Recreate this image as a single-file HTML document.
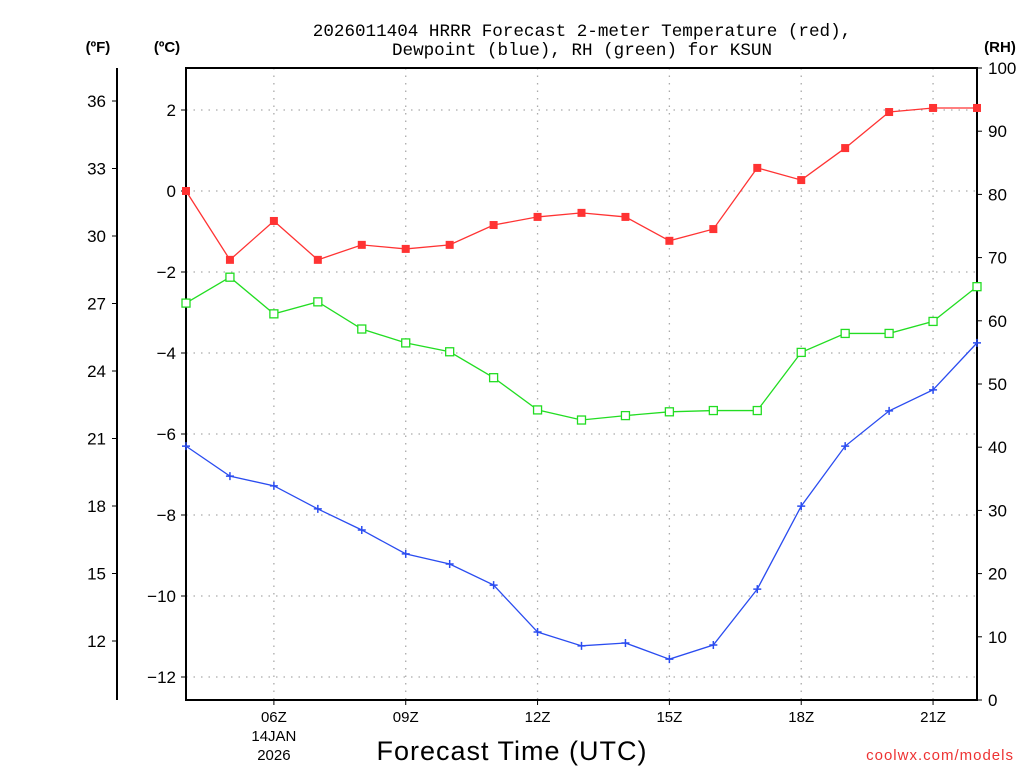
<!DOCTYPE html>
<html><head><meta charset="utf-8">
<style>
body{margin:0;background:#fff;width:1024px;height:768px;overflow:hidden;font-family:"Liberation Sans",sans-serif;}
svg text{font-family:"Liberation Sans",sans-serif;}
svg text.mono{font-family:"Liberation Mono",monospace;}
</style></head>
<body>
<svg id="chart" width="1024" height="768" xmlns="http://www.w3.org/2000/svg">
<text class="mono" x="582" y="36" font-size="17.6" text-anchor="middle" fill="#000">2026011404 HRRR Forecast 2-meter Temperature (red),</text>
<text class="mono" x="582" y="55" font-size="17.6" text-anchor="middle" fill="#000">Dewpoint (blue), RH (green) for KSUN</text>
<text x="98" y="52" font-size="15" font-weight="bold" text-anchor="middle">(ºF)</text>
<text x="167" y="52" font-size="15" font-weight="bold" text-anchor="middle">(ºC)</text>
<text x="1000" y="52" font-size="15" font-weight="bold" text-anchor="middle">(RH)</text>
<text x="512" y="760" font-size="27" text-anchor="middle" letter-spacing="1">Forecast Time (UTC)</text>
<text x="1014" y="760" font-size="15" text-anchor="end" fill="#e33" letter-spacing="1">coolwx.com/models</text>
<g id="grid"></g>
<g id="axes"></g>
<g id="series"></g>
</svg>
<script>
const hours = [4,5,6,7,8,9,10,11,12,13,14,15,16,17,18,19,20,21,22];
const tempC = [0.0,-1.7,-0.74,-1.7,-1.33,-1.43,-1.33,-0.84,-0.64,-0.54,-0.64,-1.23,-0.94,0.57,0.27,1.06,1.95,2.05,2.05];
const dewC = [-6.3,-7.04,-7.28,-7.85,-8.37,-8.96,-9.21,-9.73,-10.89,-11.23,-11.16,-11.56,-11.21,-9.83,-7.78,-6.3,-5.43,-4.91,-3.75];
const rh = [62.8,66.9,61.1,63.0,58.7,56.5,55.1,51.0,45.9,44.3,45.0,45.6,45.8,45.8,55.0,58.0,58.0,59.9,65.4];
const cTicks = [2,0,-2,-4,-6,-8,-10,-12];
const fTicks = [36,33,30,27,24,21,18,15,12];
const rhTicks = [0,10,20,30,40,50,60,70,80,90,100];
const xTicks = [6,9,12,15,18,21];
const xTickLabels = ["06Z","09Z","12Z","15Z","18Z","21Z"];

const L=186,R=977,T=68,B=700;
const NS="http://www.w3.org/2000/svg";
const xS=h=>L+(h-4)*(R-L)/18;
const yC=c=>191-c*40.5;
const yF=f=>yC((f-32)*5/9);
const yR=r=>B-r*(B-T)/100;
function mk(tag,attrs,parent){const e=document.createElementNS(NS,tag);for(const k in attrs)e.setAttribute(k,attrs[k]);parent.appendChild(e);return e;}
const grid=document.getElementById('grid'),axes=document.getElementById('axes'),ser=document.getElementById('series');

cTicks.forEach(c=>{
  const y=yC(c);
  const g=mk('line',{x1:L,x2:R,y1:y,y2:y,stroke:'#aaa','stroke-width':1.3,'stroke-dasharray':'1.5 6'},grid);
  
  
  mk('line',{x1:L-5,x2:L,y1:y,y2:y,stroke:'#000'},axes);
  const t=mk('text',{x:L-10,y:y+6,'font-size':17,'text-anchor':'end'},axes);
  t.textContent=(c<0?'\u2212'+(-c):c);
  
  
});
xTicks.forEach((h,i)=>{
  const x=xS(h);
  const g=mk('line',{x1:x,x2:x,y1:T,y2:B,stroke:'#aaa','stroke-width':1.3,'stroke-dasharray':'1.5 6'},grid);
  
  
  mk('line',{x1:x,x2:x,y1:B,y2:B+5,stroke:'#000'},axes);
  const t=mk('text',{x:x,y:722,'font-size':15,'text-anchor':'middle'},axes);
  t.textContent=xTickLabels[i];
  
  
});
[["14JAN",741],["2026",760]].forEach(d=>{
  const t=mk('text',{x:xS(6),y:d[1],'font-size':15,'text-anchor':'middle'},axes);
  t.textContent=d[0];
  
  
});
fTicks.forEach(f=>{
  const y=yF(f);
  mk('line',{x1:112,x2:117,y1:y,y2:y,stroke:'#000'},axes);
  const t=mk('text',{x:106,y:y+6,'font-size':17,'text-anchor':'end'},axes);
  t.textContent=f;
  
  
});
rhTicks.forEach(r=>{
  const y=yR(r);
  mk('line',{x1:R,x2:R+5,y1:y,y2:y,stroke:'#000'},axes);
  const t=mk('text',{x:988,y:y+6,'font-size':17,'text-anchor':'start'},axes);
  t.textContent=r;
  
  
});
const fa=mk('line',{x1:117,x2:117,y1:T,y2:B,stroke:'#000','stroke-width':2},axes);


const fr=mk('rect',{x:L,y:T,width:R-L,height:B-T,fill:'none',stroke:'#000','stroke-width':2},axes);



function pts(vals,ys){return hours.map((h,i)=>xS(h)+','+ys(vals[i])).join(' ');}
const pr=mk('polyline',{points:pts(rh,yR),fill:'none',stroke:'#2d2','stroke-width':1.3},ser);


hours.forEach((h,i)=>{const m=mk('rect',{x:xS(h)-4,y:yR(rh[i])-4,width:8,height:8,fill:'#fff',stroke:'#2d2','stroke-width':1.3},ser);

});
const pd=mk('polyline',{points:pts(dewC,yC),fill:'none',stroke:'#2a4cf0','stroke-width':1.3},ser);


hours.forEach((h,i)=>{const x=xS(h),y=yC(dewC[i]);const m=mk('path',{d:`M${x-4},${y}H${x+4}M${x},${y-4}V${y+4}`,stroke:'#2a4cf0','stroke-width':1.5},ser);

});
const pt=mk('polyline',{points:pts(tempC,yC),fill:'none',stroke:'#f33','stroke-width':1.3},ser);


hours.forEach((h,i)=>{const m=mk('rect',{x:xS(h)-4,y:yC(tempC[i])-4,width:8,height:8,fill:'#f33'},ser);

});
</script>
</body></html>
